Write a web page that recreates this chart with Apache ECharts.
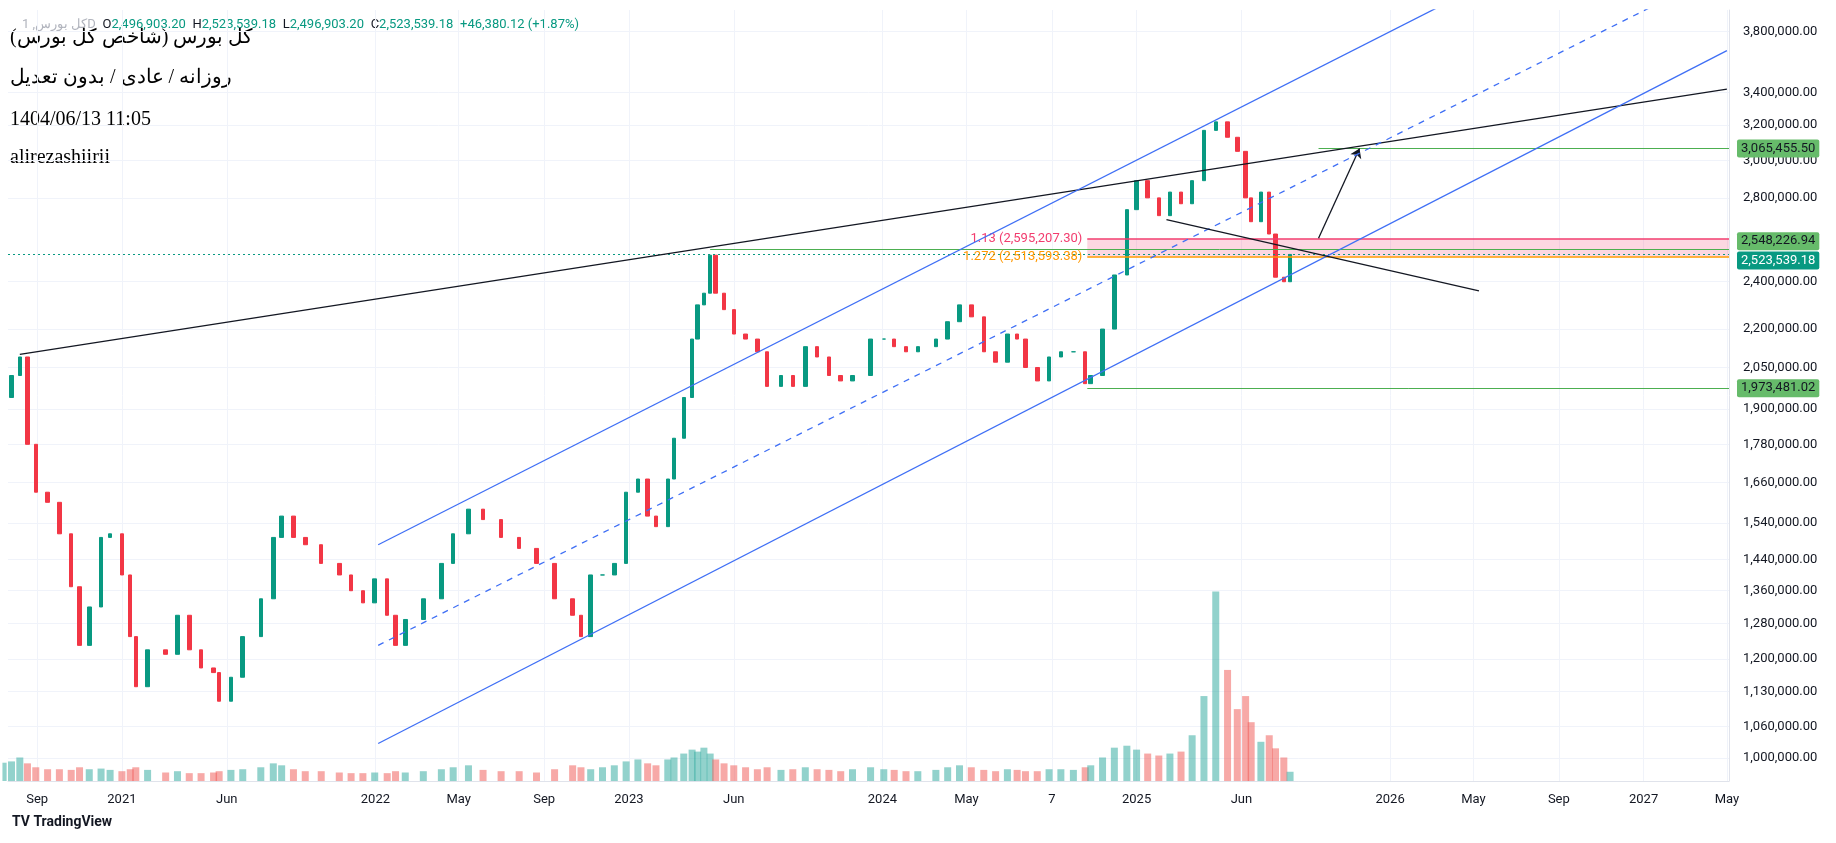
<!DOCTYPE html>
<html style="height: 100%">
<head>
    <meta charset="utf-8">
    <script src="https://cdn.jsdelivr.net/npm/echarts@6/dist/echarts.min.js"></script>
</head>
<body style="height: 100%; margin: 0; background: #fff">
    <div id="main" style="width: 1836px; height: 843px"></div>
    <script type="text/javascript">
        // semi-monthly closes
        var dates = [
            '2020-07-14', '2020-07-26', '2020-08-07', '2020-08-18', '2020-08-30', '2020-09-16', '2020-10-03', '2020-10-20', '2020-11-01', '2020-11-15', '2020-12-02', '2020-12-15',
            '2021-01-01', '2021-01-13', '2021-01-21', '2021-02-07', '2021-03-05', '2021-03-22', '2021-04-08', '2021-04-25', '2021-05-13', '2021-05-21', '2021-06-07', '2021-06-24', '2021-07-20', '2021-08-07', '2021-08-19', '2021-09-05', '2021-09-22', '2021-10-15', '2021-11-10', '2021-11-27', '2021-12-14', '2021-12-31',
            '2022-01-18', '2022-01-30', '2022-02-13', '2022-03-11', '2022-04-06', '2022-04-23', '2022-05-15', '2022-06-05', '2022-07-01', '2022-07-27', '2022-08-21', '2022-09-16', '2022-10-12', '2022-10-24', '2022-11-07', '2022-11-24', '2022-12-11', '2022-12-28',
            '2023-01-14', '2023-01-28', '2023-02-09', '2023-02-26', '2023-03-07', '2023-03-21', '2023-04-02', '2023-04-10', '2023-04-19', '2023-04-28', '2023-05-06', '2023-05-18', '2023-06-01', '2023-06-18', '2023-07-05', '2023-07-19', '2023-08-08', '2023-08-25', '2023-09-12', '2023-09-29', '2023-10-16', '2023-11-02', '2023-11-19', '2023-12-15',
            '2024-01-03', '2024-01-18', '2024-02-04', '2024-02-21', '2024-03-18', '2024-04-04', '2024-04-21', '2024-05-08', '2024-05-26', '2024-06-12', '2024-06-29', '2024-07-13', '2024-07-25', '2024-08-11', '2024-08-28', '2024-09-14', '2024-10-02', '2024-10-19', '2024-10-27', '2024-11-13', '2024-11-30', '2024-12-18',
            '2025-01-01', '2025-01-17', '2025-02-02', '2025-02-18', '2025-03-06', '2025-03-22', '2025-04-08', '2025-04-25', '2025-05-12', '2025-05-26', '2025-06-07', '2025-06-15', '2025-06-29', '2025-07-11', '2025-07-20', '2025-08-01', '2025-08-10'
        ];
        var closes = [
            1940000, 2020000, 2090000, 1780000, 1630000, 1600000, 1510000, 1370000, 1230000, 1320000, 1500000, 1510000,
            1400000, 1250000, 1140000, 1220000, 1210000, 1300000, 1220000, 1180000, 1170000, 1110000, 1160000, 1250000, 1340000, 1500000, 1560000, 1500000, 1480000, 1430000, 1400000, 1360000, 1330000, 1390000,
            1300000, 1230000, 1290000, 1340000, 1430000, 1510000, 1580000, 1550000, 1500000, 1470000, 1430000, 1340000, 1300000, 1250000, 1400000, 1400000, 1430000, 1630000,
            1670000, 1560000, 1530000, 1670000, 1800000, 1940000, 2160000, 2300000, 2350000, 2520000, 2350000, 2280000, 2180000, 2160000, 2110000, 1980000, 2020000, 1980000, 2130000, 2090000, 2020000, 2000000, 2020000, 2160000,
            2160000, 2130000, 2110000, 2130000, 2160000, 2230000, 2300000, 2250000, 2110000, 2070000, 2180000, 2160000, 2050000, 2000000, 2090000, 2110000, 2110000, 1990000, 2020000, 2200000, 2430000, 2740000,
            2890000, 2800000, 2710000, 2830000, 2770000, 2890000, 3170000, 3220000, 3130000, 3050000, 2800000, 2680000, 2830000, 2620000, 2420000, 2400000, 2523539.18
        ];
        // volume in billions
        var volumes = [
            28, 30, 36, 27, 21, 18, 18, 17, 21, 18, 19, 17,
            15, 18, 21, 17, 13, 15, 12, 12, 13, 15, 17, 18, 21, 27, 24, 18, 15, 15, 13, 12, 12, 13,
            12, 15, 13, 15, 18, 21, 24, 17, 15, 15, 13, 18, 24, 21, 18, 21, 24, 30,
            33, 27, 24, 33, 36, 42, 48, 45, 51, 42, 33, 27, 24, 21, 18, 21, 17, 18, 21, 18, 17, 15, 18, 21,
            18, 17, 15, 15, 17, 21, 24, 21, 17, 15, 18, 17, 15, 15, 18, 18, 17, 21, 24, 36, 51, 54,
            48, 42, 39, 42, 45, 70, 130, 290, 170, 110, 130, 90, 60, 70, 50, 36, 14.132
        ];
        var firstOpen = 1900000;

        var priceTicks = [1000000, 1060000, 1130000, 1200000, 1280000, 1360000, 1440000, 1540000, 1660000, 1780000, 1900000, 2050000, 2200000, 2400000, 2800000, 3000000, 3200000, 3400000, 3800000];
        var timeTicks = ['2020-09-01', '2021-01-01', '2021-06-01', '2022-01-01', '2022-05-01', '2022-09-01', '2023-01-01', '2023-06-01', '2024-01-01', '2024-05-01', '2024-09-01', '2025-01-01', '2025-06-01', '2026-01-01', '2026-05-01', '2026-09-01', '2027-01-01', '2027-05-01'];
        var timeTickNames = ['Sep', '2021', 'Jun', '2022', 'May', 'Sep', '2023', 'Jun', '2024', 'May', '7', '2025', 'Jun', '2026', 'May', 'Sep', '2027', 'May'];

        // drawings: [date, price] pairs
        var topTrend = [['2020-08-07', 2100000], ['2027-05-01', 3420000]];
        var channelUpper = [['2022-01-05', 1480000], ['2026-04-09', 4050000]];
        var channelMid = [['2022-01-05', 1230000], ['2027-01-17', 3990000]];
        var channelLower = [['2022-01-05', 1027000], ['2027-05-01', 3670000]];
        var fallingLine = [['2025-02-13', 2690000], ['2026-05-09', 2360000]];
        var arrowPath = [['2025-09-20', 2600000], ['2025-11-18', 3065455.5]];

        function t(d) { return +new Date(d + 'T00:00:00Z'); }
        var xMin = t('2020-07-21'), xMax = t('2027-05-04');
        var tickMs = timeTicks.map(t);
        var upColor = '#089981', downColor = '#f23645';
        var FONT = 'Roboto, sans-serif';

        var candles = closes.map(function (c, i) {
            var o = i === 0 ? firstOpen : closes[i - 1];
            return [t(dates[i]), o, c, Math.min(o, c), Math.max(o, c)];
        });
        var volData = volumes.map(function (v, i) {
            var o = i === 0 ? firstOpen : closes[i - 1];
            return {
                value: [t(dates[i]), v],
                itemStyle: { color: closes[i] >= o ? 'rgba(38,166,154,0.5)' : 'rgba(239,83,80,0.5)' }
            };
        });

        function boxLabel(text, bg, fg, dy) {
            return {
                show: true, position: 'end', formatter: text, distance: 8,
                backgroundColor: bg, color: fg || '#131722', padding: [3, 4, 2, 4],
                fontSize: 13, fontFamily: FONT, borderRadius: 2, offset: [0, dy || 0]
            };
        }
        function drawLine(pts, color, type) {
            return {
                type: 'line', data: pts.map(function (p) { return [t(p[0]), p[1]]; }),
                symbol: 'none', silent: true, z: 5,
                lineStyle: { color: color, width: 1.3, type: type || 'solid' }
            };
        }

        var chart = echarts.init(document.getElementById('main'));
        var option = {
            animation: false,
            backgroundColor: '#fff',
            grid: [
                { left: 8, right: 107, top: 10, bottom: 62 },
                { left: 8, right: 107, top: 585, bottom: 62 }
            ],
            xAxis: [
                {
                    type: 'value', min: xMin, max: xMax, gridIndex: 0,
                    axisLine: { show: true, lineStyle: { color: '#e0e3eb' } },
                    axisTick: { show: false, customValues: tickMs },
                    splitLine: { show: true, lineStyle: { color: '#f0f3fa' } },
                    axisLabel: {
                        customValues: tickMs,
                        formatter: function (v) {
                            var i = tickMs.indexOf(v);
                            return i >= 0 ? timeTickNames[i] : '';
                        },
                        color: '#131722', fontSize: 13, fontFamily: FONT, margin: 12
                    }
                },
                { type: 'value', min: xMin, max: xMax, gridIndex: 1, show: false }
            ],
            yAxis: [
                {
                    type: 'log', position: 'right', min: 958600, max: 3955000, gridIndex: 0,
                    axisLine: { show: true, lineStyle: { color: '#e0e3eb' } },
                    axisTick: { show: false, customValues: priceTicks },
                    splitLine: { show: true, lineStyle: { color: '#f0f3fa' } },
                    axisLabel: {
                        customValues: priceTicks,
                        formatter: function (v) {
                            return Math.round(v).toLocaleString('en-US') + '.00';
                        },
                        color: '#131722', fontSize: 13, fontFamily: FONT, margin: 14
                    }
                },
                { type: 'value', gridIndex: 1, min: 0, max: 300, show: false }
            ],
            series: [
                {
                    type: 'bar', xAxisIndex: 1, yAxisIndex: 1, data: volData, barWidth: 7, z: 1,
                    markLine: {
                        symbol: 'none', silent: true,
                        lineStyle: { opacity: 0 },
                        data: [{ yAxis: 14.132, label: boxLabel('14.132 B', '#22ab94', '#fff') }]
                    }
                },
                {
                    type: 'candlestick', data: candles, z: 4, barWidth: 4,
                    itemStyle: { color: upColor, color0: downColor, borderColor: upColor, borderColor0: downColor },
                    markArea: {
                        silent: true,
                        itemStyle: { color: 'rgba(242,54,108,0.2)' },
                        data: [[{ coord: [t('2024-10-22'), 2595207.30] }, { coord: [xMax, 2513593.38] }]]
                    },
                    markLine: {
                        symbol: 'none', silent: true,
                        data: [
                            [{ coord: [t('2025-09-20'), 3065455.50], lineStyle: { color: '#4caf50', type: 'solid', width: 1 } },
                             { coord: [xMax, 3065455.50], label: boxLabel('3,065,455.50', '#66bb6a') }],
                            [{ coord: [t('2023-04-28'), 2548226.94], lineStyle: { color: '#4caf50', type: 'solid', width: 1 } },
                             { coord: [xMax, 2548226.94], label: boxLabel('2,548,226.94', '#66bb6a', null, -8) }],
                            [{ coord: [t('2024-10-22'), 1973481.02], lineStyle: { color: '#4caf50', type: 'solid', width: 1 } },
                             { coord: [xMax, 1973481.02], label: boxLabel('1,973,481.02', '#66bb6a') }],
                            [{ coord: [t('2024-10-22'), 2595207.30], lineStyle: { color: '#f23c6e', type: 'solid', width: 1.5 },
                               label: { show: true, position: 'start', formatter: '1.13 (2,595,207.30)', color: '#f23c6e', fontSize: 13, fontFamily: FONT } },
                             { coord: [xMax, 2595207.30] }],
                            [{ coord: [t('2024-10-22'), 2513593.38], lineStyle: { color: '#ff9800', type: 'solid', width: 1.5 },
                               label: { show: true, position: 'start', formatter: '1.272 (2,513,593.38)', color: '#ff9800', fontSize: 13, fontFamily: FONT } },
                             { coord: [xMax, 2513593.38] }],
                            [{ coord: [xMin, 2523539.18], lineStyle: { color: '#089981', type: [2, 3], width: 1 } },
                             { coord: [xMax, 2523539.18], label: boxLabel('2,523,539.18', '#089981', '#fff', 6) }]
                        ]
                    }
                },
                drawLine(topTrend, '#131722'),
                drawLine(channelUpper, '#3f6ff5'),
                drawLine(channelMid, '#3f6ff5', [6, 6]),
                drawLine(channelLower, '#3f6ff5'),
                {
                    type: 'line', data: fallingLine.map(function (p) { return [t(p[0]), p[1]]; }),
                    symbol: 'none', silent: true, z: 5,
                    lineStyle: { color: '#131722', width: 1.3 },
                    markLine: {
                        silent: true, symbol: ['none', 'arrow'], symbolSize: 9,
                        lineStyle: { color: '#131722', width: 1.3, type: 'solid' },
                        label: { show: false },
                        data: [[{ coord: [t(arrowPath[0][0]), arrowPath[0][1]] }, { coord: [t(arrowPath[1][0]), arrowPath[1][1]] }]]
                    }
                }
            ],
            graphic: [
                {
                    type: 'text', left: 22, top: 18,
                    style: {
                        text: '{g|کل بورس, 1D}  {k|O}{v|2,496,903.20}  {k|H}{v|2,523,539.18}  {k|L}{v|2,496,903.20}  {k|C}{v|2,523,539.18}  {v|+46,380.12 (+1.87%)}',
                        rich: {
                            g: { fill: '#b2b5be', fontSize: 13, fontFamily: FONT },
                            k: { fill: '#131722', fontSize: 13, fontFamily: FONT },
                            v: { fill: '#089981', fontSize: 13, fontFamily: FONT }
                        }
                    }
                },
                { type: 'text', left: 10, top: 28, style: { text: 'کل بورس (شاخص کل بورس)', fill: '#000', fontSize: 20, fontFamily: 'Liberation Serif, DejaVu Serif, serif' } },
                { type: 'text', left: 10, top: 68, style: { text: 'روزانه / عادی / بدون تعدیل', fill: '#000', fontSize: 20, fontFamily: 'Liberation Serif, DejaVu Serif, serif' } },
                { type: 'text', left: 10, top: 110, style: { text: '1404/06/13 11:05', fill: '#000', fontSize: 20, fontFamily: 'Liberation Serif, serif' } },
                { type: 'text', left: 10, top: 148, style: { text: 'alirezashiirii', fill: '#000', fontSize: 20, fontFamily: 'Liberation Serif, serif' } },
                { type: 'text', left: 12, top: 815, style: { text: 'TV TradingView', fill: '#131722', fontSize: 14, fontWeight: 'bold', fontFamily: FONT } }
            ]
        };
        chart.setOption(option);
    </script>
</body>
</html>
